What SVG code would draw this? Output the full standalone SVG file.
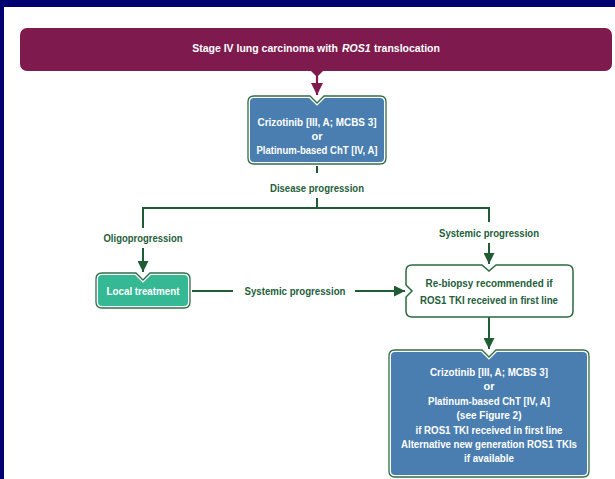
<svg xmlns="http://www.w3.org/2000/svg" width="615" height="479" viewBox="0 0 615 479">
<style>
.t{font-family:"Liberation Sans",Arial,sans-serif;font-weight:bold;font-size:11px;text-anchor:middle}
.b{font-size:10.5px}
.s{text-anchor:start}
.e{text-anchor:end}
.w{fill:#ffffff}
.g{fill:#24603a}
.ln{stroke:#1f5c33;stroke-width:2;fill:none}
</style>
<defs>
<marker id="ah" viewBox="0 0 10 10" refX="10" refY="5" markerWidth="5.5" markerHeight="5.5" markerUnits="strokeWidth" orient="auto">
<path d="M0,0 L10,5 L0,10 Z" fill="#1f5c33"/>
</marker>
<marker id="am" viewBox="0 0 10 10" refX="10" refY="5" markerWidth="5.5" markerHeight="5.5" markerUnits="strokeWidth" orient="auto">
<path d="M0,0 L10,5 L0,10 Z" fill="#7e1a4e"/>
</marker>
<path id="p1" d="M254,96 H310 L317,103 L324,96 H380 Q386,96 386,102 V158 Q386,164 380,164 H254 Q248,164 248,158 V102 Q248,96 254,96 Z"/>
<path id="p2" d="M102,273 H136 L143,280 L150,273 H184 Q190,273 190,279 V302 Q190,308 184,308 H102 Q96,308 96,302 V279 Q96,273 102,273 Z"/>
<path id="p3" d="M395,350 H482 L489,357 L496,350 H583 Q589,350 589,356 V471 Q589,477 583,477 H395 Q389,477 389,471 V356 Q389,350 395,350 Z"/>
</defs>
<rect x="0" y="0" width="615" height="479" fill="#ffffff"/>
<rect x="0" y="0" width="615" height="7" fill="#000070"/>
<rect x="0" y="0" width="4" height="479" fill="#000070"/>

<g id="banner">
<rect x="20" y="28" width="592" height="43" rx="7" fill="#7e1a4e"/>
<path d="M310,70 L324,70 L317,77 Z" fill="#7e1a4e"/>
<text class="t b e w" x="338" y="52">Stage IV lung carcinoma with</text>
<text class="t b s w" x="342" y="52" font-style="italic">ROS1</text>
<text class="t b s w" x="374" y="52">translocation</text>
</g>

<g id="connectors">
<line x1="317" y1="76" x2="317" y2="95" stroke="#7e1a4e" stroke-width="2.2" marker-end="url(#am)"/>
<path class="ln" d="M317,164 V173"/>
<path class="ln" d="M317,198 V208 M142,208 H490 M143,207 V228 M489,207 V222"/>
<path class="ln" d="M143,248 V272" marker-end="url(#ah)"/>
<path class="ln" d="M489,243 V264" marker-end="url(#ah)"/>
<path class="ln" d="M190,291 H233"/>
<path class="ln" d="M355,291 H405" marker-end="url(#ah)"/>
<path class="ln" d="M489,317 V349" marker-end="url(#ah)"/>
<text class="t g" x="317" y="192" textLength="94" lengthAdjust="spacingAndGlyphs">Disease progression</text>
<text class="t g" x="143" y="242" textLength="79" lengthAdjust="spacingAndGlyphs">Oligoprogression</text>
<text class="t g" x="489" y="237" textLength="100" lengthAdjust="spacingAndGlyphs">Systemic progression</text>
<text class="t g" x="295" y="295" textLength="101" lengthAdjust="spacingAndGlyphs">Systemic progression</text>
</g>

<g id="first-line">
<use href="#p1" fill="#4a7eb0" stroke="#ffffff" stroke-width="4"/>
<use href="#p1" fill="none" stroke="#2f6e45" stroke-width="1.3"/>
<text class="t w" x="317" y="126" textLength="119" lengthAdjust="spacingAndGlyphs">Crizotinib  [III, A; MCBS 3]</text>
<text class="t w" x="317" y="140">or</text>
<text class="t w" x="317" y="154" textLength="121" lengthAdjust="spacingAndGlyphs">Platinum-based ChT [IV, A]</text>
</g>

<g id="local-treatment">
<use href="#p2" fill="#35b994" stroke="#ffffff" stroke-width="4"/>
<use href="#p2" fill="none" stroke="#2f6e45" stroke-width="1.3"/>
<text class="t w" x="143" y="295" textLength="73" lengthAdjust="spacingAndGlyphs">Local treatment</text>
</g>

<g id="rebiopsy">
<path d="M412,265 H482 L489,271 L496,265 H567 Q573,265 573,271 V311 Q573,317 567,317 H412 Q406,317 406,311 V297 L412,291 L406,285 V271 Q406,265 412,265 Z" fill="#ffffff" stroke="#2a6a40" stroke-width="1.5"/>
<text class="t g" x="489" y="287" textLength="127" lengthAdjust="spacingAndGlyphs">Re-biopsy recommended if</text>
<text class="t g" x="489" y="304" textLength="138" lengthAdjust="spacingAndGlyphs">ROS1 TKI received in first line</text>
</g>

<g id="second-line">
<use href="#p3" fill="#4a7eb0" stroke="#ffffff" stroke-width="4"/>
<use href="#p3" fill="none" stroke="#2f6e45" stroke-width="1.3"/>
<text class="t w" x="489" y="376" textLength="118" lengthAdjust="spacingAndGlyphs">Crizotinib  [III, A; MCBS 3]</text>
<text class="t w" x="489" y="390">or</text>
<text class="t w" x="489" y="405" textLength="122" lengthAdjust="spacingAndGlyphs">Platinum-based ChT [IV, A]</text>
<text class="t w" x="489" y="419" textLength="65" lengthAdjust="spacingAndGlyphs">(see Figure 2)</text>
<text class="t w" x="489" y="434" textLength="147" lengthAdjust="spacingAndGlyphs">if ROS1 TKI received in first line</text>
<text class="t w" x="489" y="448" textLength="176" lengthAdjust="spacingAndGlyphs">Alternative new generation ROS1 TKIs</text>
<text class="t w" x="489" y="462" textLength="50" lengthAdjust="spacingAndGlyphs">if available</text>
</g>
</svg>
